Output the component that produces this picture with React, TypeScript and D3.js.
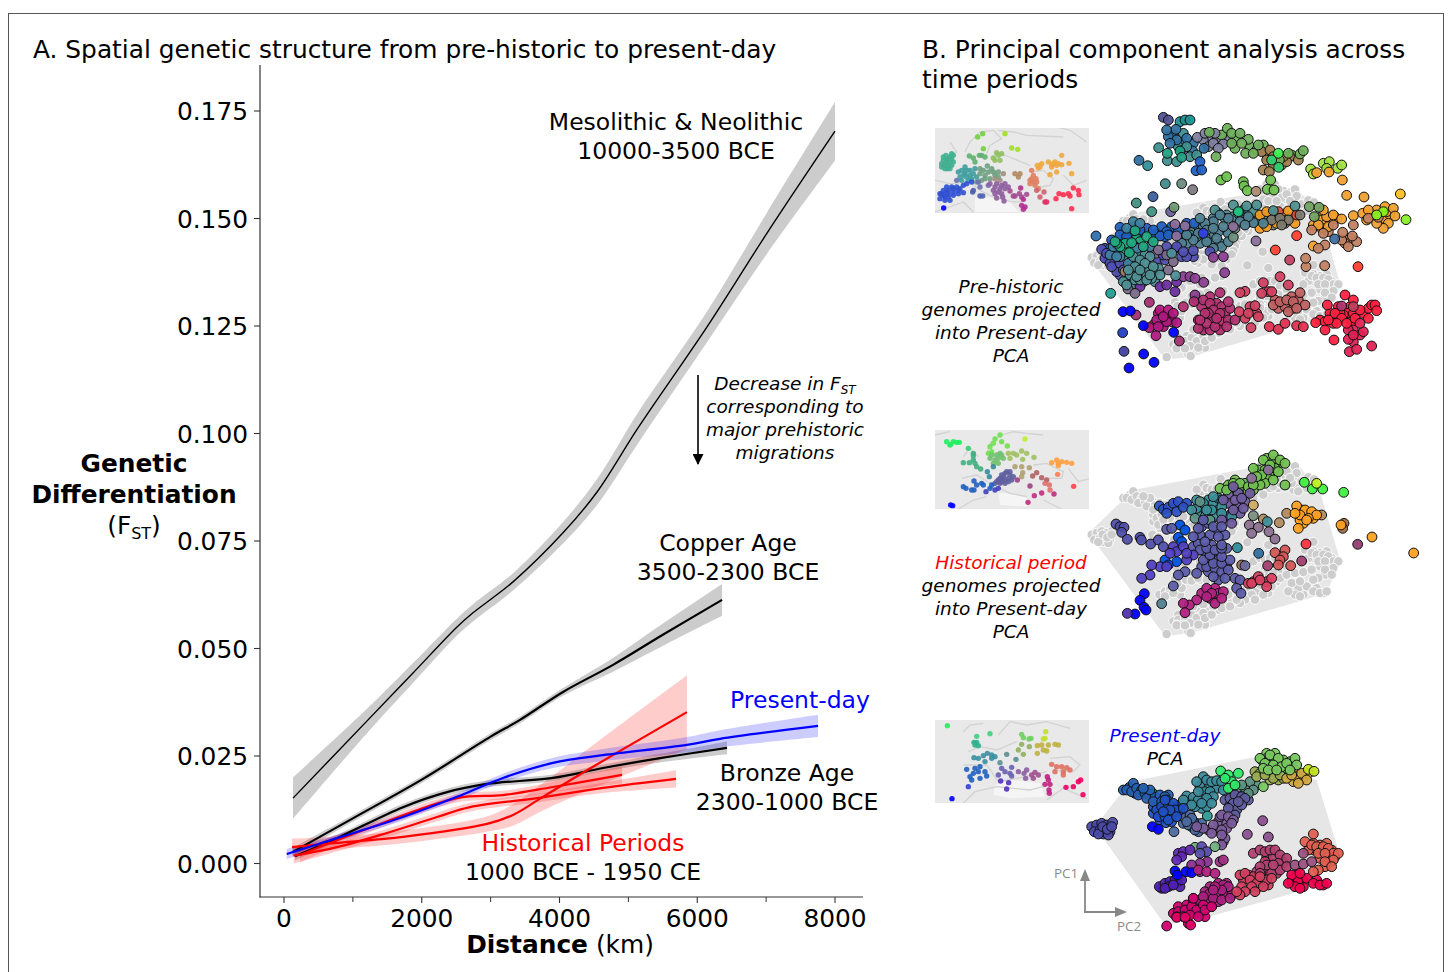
import React from "react";
import * as d3 from "d3";

type P = [number, number];
type Group = [string, P[]];

// ---------- Panel A series (distance km, FST, half width of CI)
const mesoKm = [131, 1220, 1873, 2512, 2744, 3325, 4051, 4545, 5140, 6142, 7013, 8000];
const mesoFst = [0.0152, 0.0334, 0.0443, 0.055, 0.0583, 0.0655, 0.0769, 0.0864, 0.1013, 0.1248, 0.1466, 0.1703];
const mesoCi = [0.0048, 0.0028, 0.0023, 0.002, 0.002, 0.002, 0.0025, 0.003, 0.0036, 0.0036, 0.0048, 0.0068];
const copperKm = [130, 1000, 2000, 3000, 3427, 4051, 4777, 5500, 6360];
const copperFst = [0.0027, 0.0105, 0.0195, 0.0295, 0.0334, 0.0399, 0.0462, 0.0532, 0.0613];
const copperCi = [0.001, 0.0008, 0.0008, 0.0008, 0.0008, 0.0009, 0.0016, 0.0026, 0.0037];
const bronzeKm = [160, 770, 1728, 2367, 2948, 3906, 4632, 5460, 6432];
const bronzeFst = [0.0017, 0.0059, 0.0131, 0.0166, 0.0185, 0.0199, 0.0222, 0.0245, 0.0269];
const bronzeCi = [0.001, 0.0008, 0.0008, 0.0008, 0.0008, 0.0008, 0.0008, 0.001, 0.0015];
const presentKm = [40, 770, 1728, 2512, 3180, 3906, 4632, 5850, 6330, 7754];
const presentFst = [0.0022, 0.0059, 0.0108, 0.0155, 0.0199, 0.0234, 0.0252, 0.0276, 0.029, 0.032];
const presentCi = [0.0012, 0.0008, 0.0008, 0.0008, 0.001, 0.0012, 0.0014, 0.0018, 0.002, 0.0026];
const red1Km = [232, 1249, 2512, 3180, 3906, 4908];
const red1Fst = [0.002, 0.0083, 0.0152, 0.0159, 0.0178, 0.0206];
const red1Ci = [0.0018, 0.001, 0.001, 0.001, 0.0012, 0.002];
const red2Km = [140, 770, 1495, 2222, 2700, 3673, 4632, 5692];
const red2Fst = [0.0018, 0.0038, 0.0071, 0.0108, 0.0131, 0.0152, 0.0176, 0.0197];
const red2Ci = [0.0018, 0.001, 0.001, 0.001, 0.001, 0.001, 0.0012, 0.002];
const red3Km = [116, 770, 1728, 2948, 3325, 3760, 4400, 5850];
const red3Fst = [0.0038, 0.0048, 0.0062, 0.0092, 0.0113, 0.0155, 0.0217, 0.0352];
const red3Ci = [0.002, 0.0015, 0.0015, 0.0018, 0.0025, 0.0032, 0.0048, 0.0086];

const yTicks = [0, 0.025, 0.05, 0.075, 0.1, 0.125, 0.15, 0.175];
const xMajor = [0, 2000, 4000, 6000, 8000];
const xMinor = [1000, 3000, 5000, 7000];

// ---------- Panel B: PC scores (PC2, PC1 in plot units)
const presentLower: Group[] = [
  ["#2560b0", [[610, 240], [628, 232], [645, 250], [660, 245], [682, 248], [698, 250], [712, 268], [728, 268], [745, 255]]],
  ["#3a8a9a", [[785, 280], [805, 270], [825, 275], [850, 260], [865, 250], [880, 230], [850, 220], [865, 225], [890, 235], [845, 295], [860, 290], [825, 290]]],
  ["#2050c0", [[700, 310], [720, 310], [740, 312], [760, 310], [775, 290], [700, 290], [720, 330], [738, 338], [755, 335], [760, 290], [780, 285]]],
  ["#4d6aa0", [[800, 320], [790, 340], [830, 340], [845, 340], [815, 350], [835, 365]]],
  ["#5e5a9e", [[915, 270], [930, 285], [950, 265], [935, 250], [960, 250], [985, 270]]],
  ["#7a5a9a", [[890, 360], [895, 335], [920, 340], [865, 360], [910, 395], [935, 300], [900, 320]]],
  ["#9aaa50", [[1005, 185], [1075, 210], [1050, 210], [1090, 205]]],
  ["#d0a840", [[1120, 215], [1150, 200], [1165, 190], [1100, 190], [1125, 180]]],
  ["#78c860", [[1040, 130], [1065, 130], [1090, 150], [1110, 155], [1040, 145], [1060, 150], [1025, 150], [1085, 185], [1100, 175], [1060, 195], [1045, 165]]],
  ["#5a9080", [[975, 235], [1010, 225], [950, 235]]],
  ["#5020b0", [[755, 525], [770, 520], [725, 535], [775, 505]]],
  ["#a82080", [[900, 530], [915, 550], [890, 555], [870, 530], [850, 580], [865, 575], [895, 575], [920, 520], [935, 555], [875, 590]]],
  ["#d00070", [[785, 610], [800, 615], [825, 610], [840, 590], [855, 620], [775, 590], [760, 610], [800, 585], [820, 580]]],
  ["#b04070", [[1040, 440], [1060, 440], [1085, 450], [1035, 455], [1090, 460], [1045, 480], [1070, 490], [1030, 480], [1010, 485], [1000, 430]]],
  ["#d04060", [[970, 510], [985, 495], [1000, 500], [1030, 510], [1015, 530], [965, 530], [1050, 490], [1045, 525]]],
  ["#e06050", [[1200, 405], [1220, 400], [1180, 420], [1205, 420], [1235, 420], [1225, 440], [1200, 445], [1230, 455], [1215, 470], [1245, 440], [1180, 400], [1165, 420]]],
  ["#f00050", [[1130, 495], [1150, 510], [1115, 515], [1150, 530], [1135, 520], [1190, 510], [1210, 525]]],
];
const presentUpper: Group[] = [
  ["#4a4aa8", [[515, 350], [530, 345], [545, 340], [560, 345], [578, 337], [523, 365], [540, 360], [555, 355], [570, 365], [550, 372], [565, 375], [535, 372], [548, 350], [562, 358], [575, 350]]],
  ["#2560b0", [[640, 220], [620, 240], [635, 245], [650, 235], [665, 240], [655, 255], [675, 250], [690, 255], [680, 265], [705, 262], [720, 255], [735, 260], [700, 275], [690, 240], [670, 235], [725, 275], [740, 270]]],
  ["#4d6aa0", [[762, 365], [790, 320], [810, 315], [820, 335], [805, 345], [825, 360], [815, 325], [800, 335]]],
  ["#3a8a9a", [[800, 258], [790, 270], [820, 262], [835, 270], [815, 285], [850, 200], [860, 210], [875, 215], [840, 230], [855, 245], [835, 245], [870, 245], [880, 260], [860, 265], [845, 280], [875, 280], [890, 212], [905, 215], [910, 240], [830, 215]]],
  ["#2050c0", [[710, 300], [725, 290], [745, 285], [760, 280], [780, 300], [765, 300], [715, 320], [735, 320], [755, 318], [750, 300], [730, 305], [745, 330], [770, 320], [790, 295], [735, 270]]],
  ["#0000ff", [[697, 350], [715, 358]]],
  ["#2f9a90", [[862, 318]]],
  ["#5a9080", [[990, 215], [1000, 240], [965, 225], [985, 250]]],
  ["#30e868", [[902, 183], [925, 195], [955, 190], [935, 215], [925, 235], [945, 225], [915, 205]]],
  ["#5e5a9e", [[930, 265], [945, 255], [965, 260], [975, 265], [940, 280], [950, 300], [925, 295], [945, 315], [965, 285], [955, 275]]],
  ["#7a5a9a", [[905, 315], [925, 320], [940, 330], [920, 355], [905, 360], [880, 345], [850, 355], [830, 350], [875, 370], [915, 385], [905, 375], [905, 405], [935, 340]]],
  ["#8a5090", [[1028, 332], [982, 373], [1045, 381]]],
  ["#9aaa50", [[1020, 190], [1060, 205], [1010, 200], [1035, 195], [1080, 195]]],
  ["#d0a840", [[1100, 205], [1130, 200], [1145, 190], [1160, 210], [1135, 220], [1115, 195]]],
  ["#78c860", [[1020, 145], [1050, 135], [1075, 145], [1035, 160], [1060, 165], [1085, 170], [1100, 160], [1125, 145], [1130, 165], [1030, 175], [1045, 180], [1070, 180], [1110, 180], [1030, 230]]],
  ["#c0e020", [[1165, 178], [1182, 184]]],
  ["#70b080", [[825, 412], [850, 425], [885, 410]]],
  ["#6028b0", [[775, 430], [790, 425], [785, 440], [810, 420], [770, 450]]],
  ["#5a50b0", [[845, 410], [860, 425], [840, 430]]],
  ["#8a3090", [[862, 455], [840, 460], [815, 465], [840, 485]]],
  ["#a03080", [[900, 455], [910, 450]]],
  ["#5020b0", [[718, 530], [735, 520], [750, 515], [765, 510], [780, 530], [745, 530], [785, 510], [735, 535], [760, 525]]],
  ["#0000ff", [[765, 483], [772, 495], [798, 485], [815, 488]]],
  ["#b02080", [[835, 480], [860, 485], [885, 490]]],
  ["#a82080", [[895, 520], [910, 525], [925, 530], [905, 540], [885, 530], [855, 545], [870, 550], [840, 570], [820, 565], [880, 565], [905, 570], [930, 565], [850, 560], [880, 540]]],
  ["#d00070", [[775, 605], [795, 600], [815, 590], [830, 600], [850, 585], [770, 620], [790, 620], [810, 615], [835, 620], [855, 600], [875, 590], [820, 565], [805, 640], [740, 648]]],
  ["#e00065", [[770, 622], [795, 622], [812, 645]]],
  ["#b04070", [[1020, 420], [1035, 425], [1050, 420], [1065, 420], [1080, 435], [1100, 445], [1075, 460], [1040, 465], [1020, 470], [1055, 490], [1080, 480], [1020, 490], [1060, 465], [1100, 470]]],
  ["#d04060", [[960, 495], [975, 490], [990, 510], [1010, 520], [1040, 510], [1055, 505], [1020, 500], [995, 530], [1005, 545], [975, 545], [960, 555], [950, 545], [1030, 530]]],
  ["#9a5080", [[1125, 465], [1150, 462], [1175, 455], [1150, 430]]],
  ["#e06050", [[1180, 372], [1155, 395], [1175, 405], [1190, 410], [1210, 410], [1225, 415], [1240, 430], [1255, 430], [1195, 430], [1215, 430], [1240, 450], [1215, 455], [1235, 470], [1195, 480], [1180, 485]]],
  ["#f00050", [[1120, 505], [1135, 510], [1160, 505], [1125, 530], [1140, 535], [1180, 520], [1200, 525], [1220, 520], [1115, 495], [1140, 490], [1105, 520]]],
];
const presentPca: Group[] = [...presentLower, ...presentUpper];

const historicalLower: Group[] = [
  ["#70c050", [[1040, 115], [1075, 130], [1060, 125], [1050, 155], [1065, 145], [1015, 150], [1035, 150], [1040, 170], [1010, 185], [975, 190], [955, 205], [1000, 210], [925, 195], [1035, 190], [985, 215], [945, 180]]],
  ["#6f5a9e", [[925, 225], [955, 220], [975, 245], [925, 250], [950, 260], [935, 280], [960, 280], [920, 290]]],
  ["#3a8f9a", [[840, 265], [865, 240], [880, 250], [895, 235], [895, 270], [830, 280], [855, 290], [885, 290], [905, 240]]],
  ["#5a5aa8", [[845, 320], [865, 310], [890, 330], [915, 345], [875, 375], [890, 410], [920, 385], [870, 430], [845, 440], [895, 420], [860, 400], [895, 480], [865, 455], [920, 440], [820, 380], [835, 370]]],
  ["#ffa020", [[1145, 270], [1165, 285], [1180, 295], [1150, 310], [1140, 300]]],
  ["#b02080", [[870, 535], [885, 505], [845, 520]]],
];
const historicalUpper: Group[] = [
  ["#ccaa60", [[1000, 255]]],
  ["#70c050", [[1000, 145], [1030, 120], [1060, 105], [1080, 120], [1095, 130], [1050, 135], [1075, 155], [1025, 165], [1020, 195], [940, 190], [960, 190], [985, 200], [1000, 195], [1095, 195], [1060, 180], [900, 205], [920, 210], [1010, 170]]],
  ["#8a6f9a", [[1045, 150], [995, 175]]],
  ["#2a50c0", [[718, 258], [730, 268], [745, 262], [760, 250], [775, 245], [800, 250], [740, 280], [770, 275], [790, 262]]],
  ["#3a8f9a", [[830, 265], [850, 250], [880, 230], [905, 260], [875, 270], [830, 240], [815, 270], [905, 280], [935, 290], [860, 270], [870, 300]]],
  ["#6f5a9e", [[910, 240], [940, 200], [945, 240], [970, 265], [990, 220], [965, 235], [940, 270], [905, 300], [935, 310]]],
  ["#5f8f85", [[840, 245], [870, 300], [825, 295]]],
  ["#4f4fa8", [[588, 312], [600, 320], [612, 322], [605, 337], [622, 358], [660, 352], [664, 360], [692, 372], [715, 360], [730, 380]]],
  ["#0050e0", [[780, 315], [795, 330], [775, 352], [785, 365], [735, 420], [770, 425], [745, 435]]],
  ["#5a5aa8", [[740, 328], [755, 325], [760, 498], [795, 455], [830, 460], [775, 465], [860, 440], [885, 445], [905, 455], [850, 420], [880, 430], [905, 430], [930, 420], [925, 450], [945, 475], [960, 480], [950, 505], [963, 520], [915, 475], [880, 470], [905, 410], [870, 405], [840, 390], [860, 385], [885, 390], [905, 385], [870, 345], [840, 345], [855, 365], [895, 350], [820, 350], [835, 325], [880, 320], [905, 320], [850, 300], [905, 375]]],
  ["#5040c0", [[760, 380], [770, 395], [750, 400], [790, 380], [820, 405], [800, 420], [720, 440], [695, 435], [740, 440], [690, 465], [665, 475], [800, 400]]],
  ["#0000ff", [[673, 521], [660, 541], [672, 562], [678, 570], [645, 582]]],
  ["#5030b0", [[622, 580]]],
  ["#4f7f8f", [[725, 551]]],
  ["#2f8a9a", [[952, 383]]],
  ["#40f040", [[1153, 187], [1177, 207], [1208, 207], [1271, 217]]],
  ["#c0f020", [[1190, 190]]],
  ["#7a8f80", [[1000, 287]]],
  ["#b08a60", [[1030, 297], [1078, 308], [1205, 285], [1100, 280]]],
  ["#3f8f9a", [[1042, 305]]],
  ["#8a7090", [[988, 315], [1015, 322], [1047, 335], [1065, 357], [995, 340]]],
  ["#a07040", [[1272, 310], [1268, 325]]],
  ["#ffa020", [[1130, 258], [1155, 270], [1175, 275], [1190, 285], [1140, 285], [1165, 295], [1135, 325], [1160, 300], [1125, 280], [1263, 315], [1356, 351], [1481, 399]]],
  ["#903f70", [[1313, 373]]],
  ["#ff3040", [[1158, 372]]],
  ["#d05555", [[1095, 390], [1065, 398], [1090, 410], [1080, 420], [1075, 435], [1112, 437]]],
  ["#a04070", [[1145, 423], [1043, 437]]],
  ["#2f6fa0", [[1016, 400]]],
  ["#a0705a", [[965, 435]]],
  ["#6a6a9f", [[975, 437]]],
  ["#d84060", [[985, 490], [1000, 485], [1015, 470], [1040, 485], [1055, 475], [1040, 500], [995, 490], [1020, 480]]],
  ["#b02080", [[860, 505], [895, 520], [875, 520], [910, 515], [860, 530], [830, 540], [885, 550], [905, 535], [808, 555], [790, 550], [795, 578]]],
];
const historicalPca: Group[] = [...historicalLower, ...historicalUpper];

const prehistoricLower: Group[] = [
  ["#2f70a0", [[760, 105], [785, 130], [745, 110], [820, 130]]],
  ["#3f8f90", [[790, 100], [775, 140]]],
  ["#7f7f9f", [[870, 120], [850, 120], [905, 115], [865, 140], [925, 120]]],
  ["#6fae5a", [[950, 115], [905, 105], [945, 145], [990, 140], [1010, 150], [1030, 135], [1115, 165]]],
  ["#a07f50", [[1075, 190], [1110, 170], [1040, 165], [1060, 195], [1085, 195]]],
  ["#f0a030", [[1210, 345], [1230, 360], [1250, 355], [1200, 360], [1215, 375], [1235, 350], [1180, 375], [1390, 355], [1370, 330], [1350, 345], [1410, 345], [1400, 335]]],
  ["#c08060", [[1225, 395], [1205, 385], [1290, 415], [1275, 430]]],
  ["#f09a20", [[1010, 355], [1050, 350], [1090, 345], [1125, 350], [1030, 355]]],
  ["#7a7a70", [[1070, 360], [1095, 370], [1060, 375], [1110, 355]]],
  ["#4f8f8f", [[895, 340], [920, 345], [970, 330], [1000, 335], [1030, 345]]],
  ["#4f7f90", [[820, 395], [835, 380], [850, 380], [870, 400], [895, 395], [915, 355], [940, 350], [965, 345], [990, 365], [1015, 360], [880, 355], [855, 410], [840, 430], [875, 430], [900, 430], [925, 400], [810, 405], [830, 410], [790, 400], [800, 430], [780, 410], [960, 345]]],
  ["#2060c0", [[590, 440], [610, 395], [630, 400], [655, 405], [680, 385], [710, 400], [735, 410], [755, 380], [700, 410]]],
  ["#5050b0", [[555, 445], [565, 480], [585, 490], [600, 525], [615, 485], [680, 455], [715, 480], [735, 480], [760, 450], [785, 470], [820, 470]]],
  ["#3f7f9f", [[605, 455], [620, 470], [570, 450], [580, 480], [600, 455]]],
  ["#4f8f95", [[655, 465], [675, 465], [640, 490], [655, 495], [630, 500], [615, 540], [635, 555], [660, 525], [700, 515], [670, 545], [705, 545], [650, 515], [680, 520], [715, 505], [605, 500], [630, 475], [610, 470], [590, 500]]],
  ["#20a880", [[650, 415], [660, 425], [625, 445], [610, 455], [600, 420], [645, 440]]],
  ["#b01880", [[725, 645], [750, 650], [700, 675], [730, 680], [755, 665], [715, 640]]],
  ["#b03070", [[830, 600], [845, 620], [870, 590], [890, 610], [905, 620], [915, 640], [930, 625], [880, 660], [905, 665], [850, 690], [870, 690], [900, 690], [835, 660], [925, 660]]],
  ["#d04060", [[1010, 640], [990, 620], [975, 655]]],
  ["#c06060", [[1075, 625], [1095, 620], [1115, 590], [1135, 600], [1120, 625], [1065, 600]]],
  ["#ff2040", [[1200, 660], [1235, 645], [1255, 620], [1290, 620], [1280, 640], [1240, 670], [1215, 665], [1300, 640], [1330, 640], [1345, 625], [1355, 615], [1295, 665], [1270, 645], [1230, 640], [1260, 640]]],
  ["#e02055", [[1300, 690], [1320, 705], [1285, 690], [1300, 725]]],
];
const prehistoricUpper: Group[] = [
  ["#505090", [[730, 52], [745, 60]]],
  ["#1f8f90", [[780, 65], [795, 60], [810, 60]]],
  ["#2f70a0", [[740, 90], [768, 88], [800, 115], [770, 120], [750, 130], [790, 150], [818, 153], [852, 145]]],
  ["#3f8f90", [[716, 143], [742, 182], [770, 185], [800, 140], [810, 170], [830, 165]]],
  ["#1fa080", [[742, 160], [780, 153], [785, 172]]],
  ["#1f60c0", [[840, 185], [828, 212], [845, 210]]],
  ["#7f7f9f", [[832, 112], [855, 100], [885, 100], [880, 130], [910, 132], [895, 145]]],
  ["#a07f50", [[1025, 155], [1050, 150], [1100, 185], [1135, 180], [1040, 180], [1090, 170], [1030, 210], [1048, 215], [1060, 170]]],
  ["#6fae5a", [[868, 97], [922, 85], [935, 100], [960, 100], [985, 118], [935, 130], [965, 130], [888, 170], [1015, 135], [977, 160], [1000, 160], [1140, 162], [1150, 152], [1078, 180], [1105, 160]]],
  ["#40f050", [[1075, 160]]],
  ["#30d070", [[1055, 180], [1076, 202]]],
  ["#2f6fa0", [[657, 181]]],
  ["#2f8f9a", [[683, 197]]],
  ["#6fc050", [[1052, 240], [1042, 268], [1062, 270], [903, 240], [920, 230], [970, 245], [972, 258], [982, 272]]],
  ["#aa8a70", [[1008, 274]]],
  ["#3f8a8a", [[736, 251]]],
  ["#6a8a80", [[785, 251]]],
  ["#807a80", [[818, 269]]],
  ["#3f8f80", [[649, 309], [695, 335]]],
  ["#3a60a0", [[699, 290]]],
  ["#6a5f9a", [[752, 335]]],
  ["#6a9a70", [[762, 322]]],
  ["#a0e040", [[1172, 207], [1180, 222], [1210, 190], [1228, 185], [1220, 205], [1253, 205], [1265, 195]]],
  ["#f0a030", [[1190, 218], [1227, 216], [1267, 240], [1280, 286], [1332, 291], [1300, 347], [1328, 340], [1345, 330], [1395, 320], [1420, 325], [1425, 348], [1405, 370], [1390, 385], [1370, 370], [1340, 360], [1220, 350], [1240, 345], [1210, 330], [1265, 357], [1195, 375], [1225, 380], [1180, 438]]],
  ["#ffc020", [[1441, 282]]],
  ["#c08060", [[1175, 390], [1210, 400], [1240, 375], [1300, 375], [1265, 420], [1285, 440], [1310, 425], [1297, 408], [1215, 435], [1195, 445], [1158, 500], [1214, 497], [1157, 475], [1268, 397], [1345, 355], [1375, 352]]],
  ["#70a060", [[1168, 320], [1197, 322], [1183, 350]]],
  ["#88f020", [[1458, 359], [1390, 335], [1370, 345]]],
  ["#3f6fa0", [[1244, 417]]],
  ["#ff4030", [[1130, 407], [1066, 450], [1314, 500]]],
  ["#c04060", [[1109, 480]]],
  ["#f09a20", [[1020, 345], [1040, 335], [1105, 333], [1100, 360], [1125, 370], [1070, 370], [1020, 385], [1040, 380]]],
  ["#e05040", [[1075, 335], [1130, 345]]],
  ["#4f8f8f", [[940, 315], [1010, 315], [980, 318], [885, 330], [1060, 332], [1125, 318], [955, 340]]],
  ["#20c080", [[955, 335]]],
  ["#7a7a70", [[1105, 360], [1055, 360], [1080, 355], [1085, 375], [1140, 345]]],
  ["#2060c0", [[600, 382], [640, 380], [725, 380], [740, 395], [775, 390], [800, 370], [822, 370], [720, 408], [745, 405], [575, 420], [585, 455], [600, 405], [660, 390], [700, 390], [570, 445], [620, 410]]],
  ["#4f7f90", [[1000, 368], [960, 365], [985, 350], [1030, 370], [975, 375], [925, 355], [900, 345], [880, 365], [855, 370], [840, 355], [860, 390], [910, 380], [880, 385], [835, 400], [820, 420], [890, 415], [860, 425], [905, 440], [925, 425], [880, 445], [800, 405], [785, 430]]],
  ["#6a8f80", [[940, 412], [945, 385]]],
  ["#8a6f9a", [[1008, 423], [940, 380], [765, 373], [770, 408], [795, 378], [707, 460]]],
  ["#3040e0", [[850, 400]]],
  ["#2f6fb0", [[528, 408]]],
  ["#5050b0", [[545, 448], [555, 475], [570, 490], [590, 515], [575, 500], [600, 490], [730, 465], [800, 470], [820, 452], [770, 440], [560, 460], [610, 510], [740, 440], [790, 455], [870, 455]]],
  ["#3f7f9f", [[640, 365], [660, 370], [620, 385], [570, 465], [600, 470], [580, 440], [650, 445], [690, 440], [625, 490], [590, 470]]],
  ["#6a2fa0", [[720, 560], [765, 575], [740, 555], [660, 560], [770, 545]]],
  ["#8a3f90", [[790, 530], [810, 530], [851, 547], [880, 472], [910, 470], [914, 518], [825, 535], [825, 585]]],
  ["#7a6a8a", [[624, 567], [645, 580], [715, 450], [740, 465], [760, 485], [745, 510]]],
  ["#a07f60", [[615, 515]]],
  ["#4f8f95", [[640, 470], [660, 480], [690, 470], [645, 500], [670, 520], [685, 505], [630, 525], [720, 525], [695, 535], [755, 460], [610, 545], [645, 540], [660, 540], [620, 555], [680, 540], [767, 527], [650, 530], [675, 490], [700, 500], [625, 510], [660, 510], [690, 525]]],
  ["#20a880", [[645, 392], [680, 410], [700, 425], [615, 430], [635, 428], [600, 440], [628, 458], [590, 430], [670, 440], [585, 425]]],
  ["#1f9f8f", [[572, 580]]],
  ["#a03070", [[648, 645], [688, 607], [778, 723]]],
  ["#b01880", [[720, 630], [745, 630], [760, 640], [710, 660], [740, 665], [770, 668], [688, 683], [715, 680], [708, 707], [730, 650]]],
  ["#0000ff", [[609, 635], [631, 633], [670, 677], [761, 697], [671, 762], [702, 787], [627, 804]]],
  ["#2040c0", [[608, 698]]],
  ["#4040a0", [[612, 754]]],
  ["#b03070", [[790, 620], [850, 600], [870, 610], [900, 578], [880, 630], [900, 640], [925, 605], [945, 660], [835, 685], [860, 670], [885, 680], [920, 680], [865, 640], [822, 605], [855, 640], [840, 660], [890, 655]]],
  ["#d04060", [[958, 635], [1005, 617], [1015, 650], [993, 683], [985, 640], [975, 574], [960, 578], [1030, 548], [1045, 575], [1080, 530], [1105, 555], [1025, 580], [1055, 575]]],
  ["#c06060", [[1060, 615], [1080, 605], [1100, 600], [1120, 605], [1105, 635], [1155, 615], [1140, 578], [1130, 625]]],
  ["#e03050", [[1048, 680], [1075, 688], [1095, 670], [1130, 677], [1150, 680]]],
  ["#ff2040", [[1187, 668], [1222, 615], [1245, 640], [1275, 585], [1300, 600], [1265, 655], [1250, 670], [1305, 655], [1280, 670], [1320, 630], [1365, 615], [1345, 655], [1370, 632], [1215, 690], [1242, 720], [1225, 660]]],
  ["#b03570", [[1265, 618]]],
  ["#c04060", [[1300, 620]]],
  ["#e02055", [[1285, 718], [1300, 705], [1330, 695], [1355, 738], [1288, 755], [1310, 748], [1320, 670]]],
];
const prehistoricPca: Group[] = [...prehistoricLower, ...prehistoricUpper];

const hullPre: P[] = [[505, 470], [640, 340], [1125, 260], [1200, 340], [1260, 550], [1220, 650], [810, 772], [735, 778]];
const hullHist: P[] = [[505, 340], [640, 210], [1010, 140], [1130, 130], [1200, 215], [1260, 420], [1220, 520], [810, 640], [735, 648]];
const hullPresent: P[] = [[525, 350], [630, 215], [1010, 140], [1190, 210], [1255, 420], [1120, 550], [830, 630], [735, 645]];

// ---------- Map insets (sample locations)
const mapPreDots: Group[] = [
  ["#40b090", [[40, 105], [48, 100], [65, 95], [70, 100], [35, 125], [42, 130], [50, 125], [60, 120], [55, 110], [65, 130], [45, 140], [70, 120], [60, 140], [50, 115], [60, 105], [40, 115], [55, 130], [35, 135], [65, 110], [52, 140]]],
  ["#5fb070", [[118, 102], [130, 108], [148, 100], [155, 100], [165, 105], [135, 120]]],
  ["#6fd040", [[143, 45], [158, 35], [160, 80]]],
  ["#a0e020", [[225, 35], [245, 78], [263, 82]]],
  ["#90c060", [[200, 92], [215, 95], [205, 100], [195, 115], [210, 115], [190, 108]]],
  ["#3f9f9f", [[105, 135], [85, 150], [105, 155], [120, 145], [90, 165], [110, 165], [125, 170], [135, 140], [95, 145], [100, 160], [115, 175], [130, 155], [95, 175], [140, 165], [120, 160], [110, 145]]],
  ["#6fa080", [[150, 140], [172, 132], [190, 150], [205, 150], [165, 160], [180, 170], [150, 155], [160, 145], [175, 150], [195, 160], [165, 170], [185, 140], [205, 165], [155, 175], [140, 180]]],
  ["#9f8f80", [[210, 175], [220, 155], [195, 170]]],
  ["#b08a60", [[255, 155], [270, 155], [265, 165]]],
  ["#2f50d0", [[35, 215], [30, 230], [45, 235], [55, 225], [50, 195], [65, 195], [80, 195], [70, 210], [85, 215], [100, 212], [60, 235], [50, 210], [110, 185], [125, 180], [40, 205], [55, 205], [70, 200], [90, 200], [40, 220], [55, 215], [70, 220], [85, 205], [100, 190], [30, 215], [45, 225]]],
  ["#0000ff", [[41, 258]]],
  ["#4f60b0", [[128, 210], [130, 205], [150, 222], [158, 222]]],
  ["#6f6fb0", [[145, 180], [150, 195], [175, 190], [80, 175]]],
  ["#8f5fa0", [[195, 195], [205, 210], [215, 190], [190, 205], [225, 185], [200, 228], [222, 237], [218, 225], [200, 185], [210, 200], [180, 185], [225, 200], [195, 215], [215, 215], [235, 195]]],
  ["#a04f90", [[240, 207], [255, 222], [268, 215], [275, 225], [290, 217], [250, 222]]],
  ["#b02f90", [[272, 198], [280, 232], [275, 250], [285, 255], [280, 262]]],
  ["#e08060", [[300, 175], [310, 180], [305, 145], [310, 160], [320, 180], [315, 190], [325, 200], [300, 185], [305, 170], [318, 170]]],
  ["#d06070", [[320, 205], [330, 225], [342, 210]]],
  ["#f0a840", [[322, 130], [335, 125], [330, 135], [355, 120], [370, 125], [380, 130], [395, 128], [365, 135], [417, 124], [395, 100], [425, 155], [360, 158], [380, 150], [375, 120], [365, 128], [385, 125], [325, 138]]],
  ["#ff3050", [[378, 230], [387, 215], [400, 218], [415, 215], [420, 222], [430, 198], [445, 205], [447, 218], [425, 260]]],
  ["#e03060", [[345, 240], [350, 240]]],
];
const mapHistDots: Group[] = [
  ["#20f060", [[50, 50], [62, 58], [70, 50], [80, 52], [88, 52], [60, 60]]],
  ["#30d070", [[115, 70]]],
  ["#40b080", [[130, 85], [130, 92], [100, 113], [118, 113], [130, 105], [140, 125], [135, 115], [152, 132]]],
  ["#70e050", [[210, 30], [195, 42], [180, 65], [190, 55], [215, 50], [175, 85], [185, 80], [232, 63]]],
  ["#c0f030", [[285, 42]]],
  ["#70c070", [[180, 100], [195, 105], [215, 90], [200, 90], [205, 115], [190, 115], [185, 90], [205, 100], [220, 100], [210, 85]]],
  ["#a0c060", [[235, 85], [250, 85], [260, 90], [275, 78], [240, 100], [290, 85], [278, 103], [312, 97]]],
  ["#3a8a9a", [[172, 140], [190, 125], [178, 155]]],
  ["#5f5fa0", [[205, 165], [215, 150], [230, 140], [240, 150], [225, 165], [210, 175], [235, 170], [245, 165], [220, 155], [215, 160], [225, 145], [235, 160], [225, 175], [200, 170], [215, 170], [240, 140], [210, 160], [250, 155], [195, 175]]],
  ["#2060c0", [[132, 168], [100, 185], [108, 190], [125, 195], [140, 180], [155, 175], [160, 180], [132, 195], [185, 180], [180, 190]]],
  ["#4040c0", [[168, 200], [195, 195], [205, 190]]],
  ["#0000ff", [[62, 240], [68, 242]]],
  ["#b0a070", [[255, 125], [275, 125], [298, 128], [278, 143], [275, 155]]],
  ["#b06060", [[308, 153], [320, 143], [335, 158], [350, 165]]],
  ["#e07070", [[345, 175], [358, 180], [360, 195]]],
  ["#ffa040", [[365, 113], [380, 105], [385, 115], [395, 110], [410, 112], [425, 115], [385, 122]]],
  ["#ff8050", [[383, 148]]],
  ["#ff4050", [[431, 184]]],
  ["#a04080", [[262, 165], [300, 183]]],
  ["#c02f80", [[313, 212], [335, 204], [372, 207], [294, 232]]],
];
const mapPresentDots: Group[] = [
  ["#20f060", [[52, 32]]],
  ["#40d080", [[140, 64], [180, 56]]],
  ["#30b090", [[132, 82], [140, 82], [145, 92], [135, 90]]],
  ["#70d060", [[275, 58], [280, 68], [297, 72], [303, 70]]],
  ["#c0e030", [[347, 50], [345, 70], [340, 72]]],
  ["#90b060", [[275, 88], [298, 95], [265, 105], [280, 118]]],
  ["#c0b040", [[322, 92], [335, 90], [355, 90], [375, 88], [385, 90], [340, 105], [350, 108], [322, 115]]],
  ["#3a90a0", [[132, 128], [145, 130], [160, 122], [172, 115], [185, 120], [165, 140], [185, 130], [195, 125]]],
  ["#5a8f90", [[230, 118], [258, 133], [210, 143]]],
  ["#2060c0", [[110, 163], [135, 160], [150, 155], [165, 170], [130, 175], [120, 185], [125, 195], [150, 190], [170, 183], [145, 170]]],
  ["#3040e0", [[115, 215]]],
  ["#0000ff", [[66, 251]]],
  ["#6a5fb0", [[205, 180], [215, 160], [225, 170], [240, 175], [245, 183], [245, 157]]],
  ["#5030c0", [[212, 198], [236, 203], [230, 222]]],
  ["#8a5fa0", [[265, 170], [282, 175], [290, 165], [287, 190]]],
  ["#a05090", [[310, 190], [315, 172], [325, 180], [305, 180]]],
  ["#e07060", [[365, 148], [380, 155], [395, 155], [410, 158], [400, 170], [375, 170], [420, 165], [400, 180]]],
  ["#c02080", [[352, 185], [355, 195], [345, 208], [360, 208], [357, 225], [358, 235]]],
  ["#f00060", [[408, 217], [430, 215], [445, 200], [452, 195], [459, 239]]],
];

const mapPreCoast: P[][] = [
  [[105, 90], [120, 60], [150, 30], [190, 25], [215, 50], [180, 70], [170, 95]],
  [[205, 25], [250, 30], [290, 40], [400, 45]],
  [[15, 175], [60, 185], [120, 180], [150, 205], [190, 225], [240, 238], [280, 240]],
  [[300, 150], [340, 145], [370, 170], [360, 190], [330, 195], [300, 180]],
  [[400, 160], [430, 190], [470, 175]],
  [[15, 270], [100, 240], [130, 270]],
  [[200, 90], [250, 110], [300, 130]],
  [[380, 15], [420, 25], [470, 60]],
  [[60, 60], [80, 90], [60, 100]],
];
const mapHistCoast: P[][] = [
  [[15, 30], [60, 20]],
  [[170, 90], [180, 55], [215, 30], [250, 20], [290, 25], [340, 30]],
  [[100, 95], [120, 70], [145, 95]],
  [[95, 160], [140, 150], [190, 180], [240, 205], [290, 215]],
  [[310, 120], [350, 115], [400, 140], [395, 160], [350, 160]],
  [[80, 255], [130, 225], [170, 215]],
  [[415, 130], [445, 170], [480, 160]],
  [[340, 225], [400, 255]],
];
const mapPresentCoast: P[][] = [
  [[100, 50], [120, 30], [160, 25]],
  [[205, 60], [240, 20], [290, 30], [350, 20], [420, 40]],
  [[115, 110], [150, 95], [200, 105], [260, 80]],
  [[100, 150], [170, 150], [205, 200], [260, 190], [350, 170]],
  [[360, 130], [420, 125], [450, 150], [430, 170], [370, 165]],
  [[100, 265], [135, 230], [200, 215], [300, 225], [340, 215]],
  [[350, 255], [400, 220], [470, 250]],
];
const mapPreSea: P[] = [[135, 225], [190, 228], [240, 240], [265, 270], [135, 270]];
const mapHistSea: P[] = [[205, 205], [245, 205], [290, 215], [290, 245], [210, 240]];
const mapPresentSea: P[] = [[195, 210], [250, 195], [330, 205], [345, 245], [240, 250], [190, 240]];

// ---------- Text
const FONT = "DejaVu Sans";

// ---------- Scales
const x = d3.scaleLinear().domain([0, 8000]).range([284, 835]);
const y = d3.scaleLinear().domain([0, 0.175]).range([863.5, 111]);

const pcPre = {
  x: d3.scaleLinear().domain([0, 1530]).range([920, 1430]),
  y: d3.scaleLinear().domain([0, 870]).range([100, 390]),
};
const pcHist = {
  x: d3.scaleLinear().domain([0, 1530]).range([920, 1430]),
  y: d3.scaleLinear().domain([0, 690]).range([420, 650]),
};
const pcPresent = {
  x: d3.scaleLinear().domain([0, 1530]).range([920, 1430]),
  y: d3.scaleLinear().domain([0, 690]).range([710, 940]),
};
const pcPreBg = { x: pcPre.x, y: d3.scaleLinear().domain([-123, 747]).range([100, 390]) };
const pcHistBg = { x: pcHist.x, y: d3.scaleLinear().domain([6, 696]).range([420, 650]) };

type XY = { x: d3.ScaleLinear<number, number>; y: d3.ScaleLinear<number, number> };

function Band({ km, v, ci, fill }: { km: number[]; v: number[]; ci: number[]; fill: string }) {
  const idx = km.map((_, i) => i);
  const area = d3.area<number>().x((i) => x(km[i])).y0((i) => y(v[i] - ci[i])).y1((i) => y(v[i] + ci[i])).curve(d3.curveCatmullRom);
  return <path d={area(idx) ?? ""} fill={fill} fillOpacity={0.2} stroke="none" />;
}
function Curve({ km, v, stroke, width }: { km: number[]; v: number[]; stroke: string; width: number }) {
  const idx = km.map((_, i) => i);
  const line = d3.line<number>().x((i) => x(km[i])).y((i) => y(v[i])).curve(d3.curveCatmullRom);
  return <path d={line(idx) ?? ""} fill="none" stroke={stroke} strokeWidth={width} />;
}

function GreyPoints({ s }: { s: XY }) {
  return (
    <g>
      {presentPca.map(([, pts], i) =>
        pts.map((p, j) => <circle key={`${i}-${j}`} cx={s.x(p[0])} cy={s.y(p[1])} r={4.7} fill="#cdcdcd" stroke="#fff" strokeWidth={0.9} />)
      )}
    </g>
  );
}
function PcPoints({ groups, s }: { groups: Group[]; s: XY }) {
  return (
    <g>
      {groups.map(([c, pts], i) =>
        pts.map((p, j) => <circle key={`${i}-${j}`} cx={s.x(p[0])} cy={s.y(p[1])} r={4.9} fill={c} fillOpacity={0.94} stroke="#111" strokeWidth={1} />)
      )}
    </g>
  );
}
function Hull({ pts, s }: { pts: P[]; s: XY }) {
  const l = d3.line<P>().x((d) => s.x(d[0])).y((d) => s.y(d[1])).curve(d3.curveLinearClosed);
  return <path d={l(pts) ?? ""} fill="#e6e6e6" />;
}

function MapInset({ left, top, w, h, dots, coast, sea, ox, oy }: { left: number; top: number; w: number; h: number; dots: Group[]; coast: P[][]; sea: P[]; ox: number; oy: number }) {
  const sx = d3.scaleLinear().domain([0, 3]).range([ox, ox + 1]);
  const sy = d3.scaleLinear().domain([0, 3]).range([oy, oy + 1]);
  const l = d3.line<P>().x((d) => sx(d[0])).y((d) => sy(d[1]));
  const id = `m${left}${top}`;
  return (
    <g>
      <clipPath id={id}><rect x={left} y={top} width={w} height={h} /></clipPath>
      <g clipPath={`url(#${id})`}>
        <rect x={left} y={top} width={w} height={h} fill="#e9e9e9" />
        <path d={(l(sea) ?? "") + "Z"} fill="#f5f5f5" />
        {coast.map((c, i) => <path key={i} d={l(c) ?? ""} fill="none" stroke="#d2d2d2" strokeWidth={1.3} />)}
        {dots.map(([c, pts], i) => pts.map((p, j) => <circle key={`${i}-${j}`} cx={sx(p[0])} cy={sy(p[1])} r={2.7} fill={c} fillOpacity={0.9} />))}
      </g>
    </g>
  );
}

const FS = 24.85;
const LS = 23.5;
const IS = 18.5;

function T({ x: tx, y: ty, children, size = FS, color = "#000", anchor = "middle", style = "normal", weight = "normal", family = FONT }: any) {
  return <text x={tx} y={ty} fontFamily={family} fontSize={size} fill={color} textAnchor={anchor} fontStyle={style} fontWeight={weight}>{children}</text>;
}

export default function App() {
  return (
    <svg width={1448} height={972} viewBox="0 0 1448 972" style={{ position: "absolute", left: 0, top: 0, background: "#fff" }}>
      <defs>
        <marker id="ah" markerWidth="11" markerHeight="11" refX="10" refY="5.5" orient="auto" markerUnits="userSpaceOnUse">
          <path d="M0,0 L11,5.5 L0,11 Z" fill="#000" />
        </marker>
      </defs>
      <rect x={8.5} y={13.5} width={1435} height={970} fill="none" stroke="#555" strokeWidth={1} />

      <T x={33} y={58} anchor="start">A. Spatial genetic structure from pre-historic to present-day</T>
      <T x={922} y={58} anchor="start">B. Principal component analysis across</T>
      <T x={922} y={88} anchor="start">time periods</T>

      {/* Panel A axes */}
      <line x1={260} x2={260} y1={65} y2={897.5} stroke="#333" strokeWidth={1.2} />
      <line x1={259.5} x2={863} y1={897} y2={897} stroke="#333" strokeWidth={1.2} />
      {yTicks.map((t) => (
        <g key={t}>
          <line x1={254} x2={260} y1={y(t)} y2={y(t)} stroke="#333" strokeWidth={1.1} />
          <T x={248} y={y(t) + 9} anchor="end">{t.toFixed(3)}</T>
        </g>
      ))}
      {xMajor.map((t) => (
        <g key={t}>
          <line x1={x(t)} x2={x(t)} y1={897} y2={903} stroke="#333" strokeWidth={1.1} />
          <T x={x(t)} y={927}>{t}</T>
        </g>
      ))}
      {xMinor.map((t) => <line key={t} x1={x(t)} x2={x(t)} y1={897} y2={902} stroke="#333" strokeWidth={1} />)}

      {/* Panel A curves */}
      <Band km={mesoKm} v={mesoFst} ci={mesoCi} fill="#000" />
      <Band km={copperKm} v={copperFst} ci={copperCi} fill="#000" />
      <Band km={bronzeKm} v={bronzeFst} ci={bronzeCi} fill="#000" />
      <Band km={red3Km} v={red3Fst} ci={red3Ci} fill="#f00" />
      <Band km={red1Km} v={red1Fst} ci={red1Ci} fill="#f00" />
      <Band km={red2Km} v={red2Fst} ci={red2Ci} fill="#f00" />
      <Band km={presentKm} v={presentFst} ci={presentCi} fill="#00f" />
      <Curve km={mesoKm} v={mesoFst} stroke="#000" width={1.4} />
      <Curve km={copperKm} v={copperFst} stroke="#000" width={2.2} />
      <Curve km={bronzeKm} v={bronzeFst} stroke="#000" width={2.2} />
      <Curve km={red3Km} v={red3Fst} stroke="#f00" width={2.2} />
      <Curve km={red1Km} v={red1Fst} stroke="#f00" width={2.2} />
      <Curve km={red2Km} v={red2Fst} stroke="#f00" width={2.2} />
      <Curve km={presentKm} v={presentFst} stroke="#00f" width={2.2} />

      <T x={676} y={129.5} size={LS}>Mesolithic &amp; Neolithic</T>
      <T x={676} y={158.5} size={LS}>10000-3500 BCE</T>
      <T x={728} y={551} size={LS}>Copper Age</T>
      <T x={728} y={580} size={LS}>3500-2300 BCE</T>
      <T x={800} y={708} size={LS} color="#0000ff">Present-day</T>
      <T x={787} y={780.5} size={LS}>Bronze Age</T>
      <T x={787} y={809.5} size={LS}>2300-1000 BCE</T>
      <T x={583} y={851} size={LS} color="#ff0000">Historical Periods</T>
      <T x={583} y={880} size={LS}>1000 BCE - 1950 CE</T>

      <line x1={698} x2={698} y1={375} y2={464} stroke="#000" strokeWidth={1.6} markerEnd="url(#ah)" />
      <text x={785} y={390} fontFamily={FONT} fontSize={IS} fontStyle="italic" textAnchor="middle">
        Decrease in F<tspan fontSize={12} dy={4}>ST</tspan>
      </text>
      <T x={785} y={413} size={IS} style="italic">corresponding to</T>
      <T x={785} y={436} size={IS} style="italic">major prehistoric</T>
      <T x={785} y={459} size={IS} style="italic">migrations</T>

      <T x={134} y={472} weight="bold">Genetic</T>
      <T x={134} y={503} weight="bold">Differentiation</T>
      <text x={134} y={534} fontFamily={FONT} fontSize={FS} textAnchor="middle">
        (F<tspan fontSize={16} dy={5}>ST</tspan><tspan dy={-5}>)</tspan>
      </text>
      <text x={560} y={953} fontFamily={FONT} fontSize={FS} textAnchor="middle">
        <tspan fontWeight="bold">Distance</tspan> (km)
      </text>

      {/* Panel B: pre-historic */}
      <MapInset left={935} top={128} w={154} h={85} dots={mapPreDots} coast={mapPreCoast} sea={mapPreSea} ox={930} oy={122} />
      <Hull pts={hullPre} s={pcPre} />
      <GreyPoints s={pcPreBg} />
      <PcPoints groups={prehistoricPca} s={pcPre} />
      {["Pre-historic", "genomes projected", "into Present-day", "PCA"].map((t, i) => (
        <T key={t} x={1011} y={293 + i * 23} size={IS} style="italic">{t}</T>
      ))}

      {/* Panel B: historical */}
      <MapInset left={935} top={430} w={154} h={79} dots={mapHistDots} coast={mapHistCoast} sea={mapHistSea} ox={930} oy={425} />
      <Hull pts={hullHist} s={pcHist} />
      <GreyPoints s={pcHistBg} />
      <PcPoints groups={historicalPca} s={pcHist} />
      <T x={1011} y={569} size={IS} style="italic" color="#ff0000">Historical period</T>
      {["genomes projected", "into Present-day", "PCA"].map((t, i) => (
        <T key={t} x={1011} y={592 + i * 23} size={IS} style="italic">{t}</T>
      ))}

      {/* Panel B: present-day */}
      <MapInset left={935} top={720} w={154} h={83} dots={mapPresentDots} coast={mapPresentCoast} sea={mapPresentSea} ox={930} oy={715} />
      <Hull pts={hullPresent} s={pcPresent} />
      <PcPoints groups={presentPca} s={pcPresent} />
      <T x={1165} y={742} size={IS} style="italic" color="#0000ff">Present-day</T>
      <T x={1165} y={765} size={IS} style="italic">PCA</T>

      <g stroke="#888" fill="#888">
        <line x1={1085} x2={1085} y1={913} y2={876} strokeWidth={1.8} />
        <line x1={1084} x2={1120} y1={912} y2={912} strokeWidth={1.8} />
        <path d="M1085,869 L1080,881 L1090,881 Z" stroke="none" />
        <path d="M1127,912 L1115,907 L1115,917 Z" stroke="none" />
      </g>
      <T x={1054} y={878} size={13.5} color="#8a8a8a" anchor="start" family="Open Sans">PC1</T>
      <T x={1117} y={931} size={13.5} color="#8a8a8a" anchor="start" family="Open Sans">PC2</T>
    </svg>
  );
}
